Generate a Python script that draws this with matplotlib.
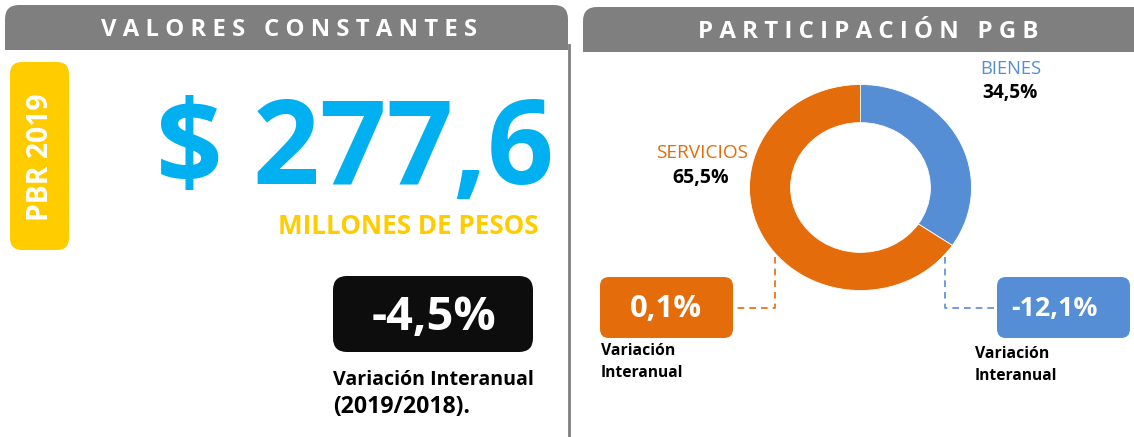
import matplotlib
matplotlib.use("Agg")
import matplotlib.pyplot as plt
from matplotlib.patches import FancyBboxPatch, Rectangle

# ---- data ----
pbr_year = 2019
pbr_value = 277.6
pbr_unit = "MILLONES DE PESOS"
pbr_variation = -4.5
categories = ["BIENES", "SERVICIOS"]
shares = [34.5, 65.5]
variations = [-12.1, 0.1]
header_left = "VALORES CONSTANTES"
header_right = "PARTICIPACIÓN PGB"

GRAY = "#7F7F7F"
CYAN = "#00B0F0"
YELLOW = "#FFCC00"
ORANGE = "#E46C0A"
BLUE = "#558ED5"
FONT = "Open Sans"

def fmt(v):
    return f"{v:.1f}".replace(".", ",")

def spaced(t):
    return "   ".join(" ".join(w) for w in t.split(" "))

W, H = 1134, 437
fig = plt.figure(figsize=(W / 100, H / 100), dpi=100)
ax = fig.add_axes([0, 0, 1, 1])
ax.set_xlim(0, W)
ax.set_ylim(H, 0)
ax.axis("off")
renderer = fig.canvas.get_renderer()

def fit_text(x, y, s, length, size, vertical=False, **kw):
    """Place text and scale its font so that it spans `length` pixels."""
    t = ax.text(x, y, s, fontsize=size, family=FONT,
                rotation=90 if vertical else 0, **kw)
    ext = t.get_window_extent(renderer)
    cur = ext.height if vertical else ext.width
    t.set_fontsize(size * length / cur)
    return t

def rbox(x0, y0, x1, y1, color, r=10, z=1):
    p = FancyBboxPatch((x0, y0), x1 - x0, y1 - y0,
                       boxstyle=f"round,pad=0,rounding_size={r}",
                       fc=color, ec="none", zorder=z)
    ax.add_patch(p)

def header(x0, y0, x1, y1, text, cx, width):
    rbox(x0, y0, x1, y1, GRAY, r=14)
    ax.add_patch(Rectangle((x0, (y0 + y1) / 2), x1 - x0, (y1 - y0) / 2,
                           fc=GRAY, ec="none", zorder=1))
    fit_text(cx, (y0 + y1) / 2 + 2, spaced(text), width, 14, color="white",
             fontweight="bold", ha="center", va="center", zorder=3)

# headers
header(5, 5, 568, 50, header_left, 289, 378)
header(583, 7, 1160, 52, header_right, 868, 343)

# divider
ax.plot([568.5, 568.5], [45, H], color=GRAY, lw=2, zorder=2)

# yellow PBR box
rbox(10, 62, 69, 250, YELLOW, r=12)
fit_text(41, 157, f"PBR {pbr_year}", 128, 20, vertical=True, color="white",
         fontweight="bold", ha="center", va="center", zorder=3)

# big value
fit_text(355, 184, f"$ {fmt(pbr_value)}", 398, 82, color=CYAN,
         fontweight="bold", ha="center", va="baseline", zorder=3)
fit_text(408, 226, pbr_unit, 260, 19, color=YELLOW, fontweight="bold",
         ha="center", va="center", zorder=3)

# black variation box
rbox(333, 276, 533, 352, "#0D0D0D", r=14)
fit_text(434, 317, f"{fmt(pbr_variation)}%", 125, 32, color="white",
         fontweight="bold", ha="center", va="center", zorder=3)
fit_text(333, 380, "Variación Interanual", 202, 14, color="black",
         fontweight="bold", ha="left", va="center")
fit_text(333, 407, f"({pbr_year}/{pbr_year - 1}).", 137, 14, color="black",
         fontweight="bold", ha="left", va="center")

# donut
cx, cy, rx, ry = 860.5, 187.5, 111, 103
dax = fig.add_axes([(cx - rx) / W, 1 - (cy + ry) / H, 2 * rx / W, 2 * ry / H])
dax.pie(shares, colors=[BLUE, ORANGE], startangle=90, counterclock=False,
        radius=1, wedgeprops=dict(width=0.37, edgecolor="white", linewidth=0.6))
dax.set_aspect("auto")
dax.set_xlim(-1, 1)
dax.set_ylim(-1, 1)
dax.axis("off")

# labels
fit_text(1011, 69, categories[0], 61, 12, color=BLUE, ha="center", va="center")
fit_text(1010, 93, f"{fmt(shares[0])}%", 55, 12, color="black",
         fontweight="bold", ha="center", va="center")
fit_text(702, 153, categories[1], 92, 12, color=ORANGE, ha="center", va="center")
fit_text(701, 178, f"{fmt(shares[1])}%", 56, 12, color="black",
         fontweight="bold", ha="center", va="center")

# variation boxes
rbox(600, 277, 733, 338, ORANGE, r=9)
fit_text(666, 309, f"{fmt(variations[1])}%", 72, 22, color="white",
         fontweight="bold", ha="center", va="center", zorder=3)
rbox(997, 277, 1130, 338, BLUE, r=9)
fit_text(1055, 309, f"{fmt(variations[0])}%", 86, 22, color="white",
         fontweight="bold", ha="center", va="center", zorder=3)

# dashed connectors
ax.plot([775, 775, 733], [257, 308, 308], color=ORANGE, lw=1.2,
        ls=(0, (4, 3)), zorder=2)
ax.plot([945, 945, 997], [257, 308, 308], color=BLUE, lw=1.2,
        ls=(0, (4, 3)), zorder=2)

for x, y0 in [(601, 351), (975, 354)]:
    fit_text(x, y0, "Variación", 74, 10.5, color="black", fontweight="bold",
             ha="left", va="center")
    fit_text(x, y0 + 22, "Interanual", 83, 10.5, color="black",
             fontweight="bold", ha="left", va="center")

fig.savefig("out.png", dpi=100, facecolor="white")
